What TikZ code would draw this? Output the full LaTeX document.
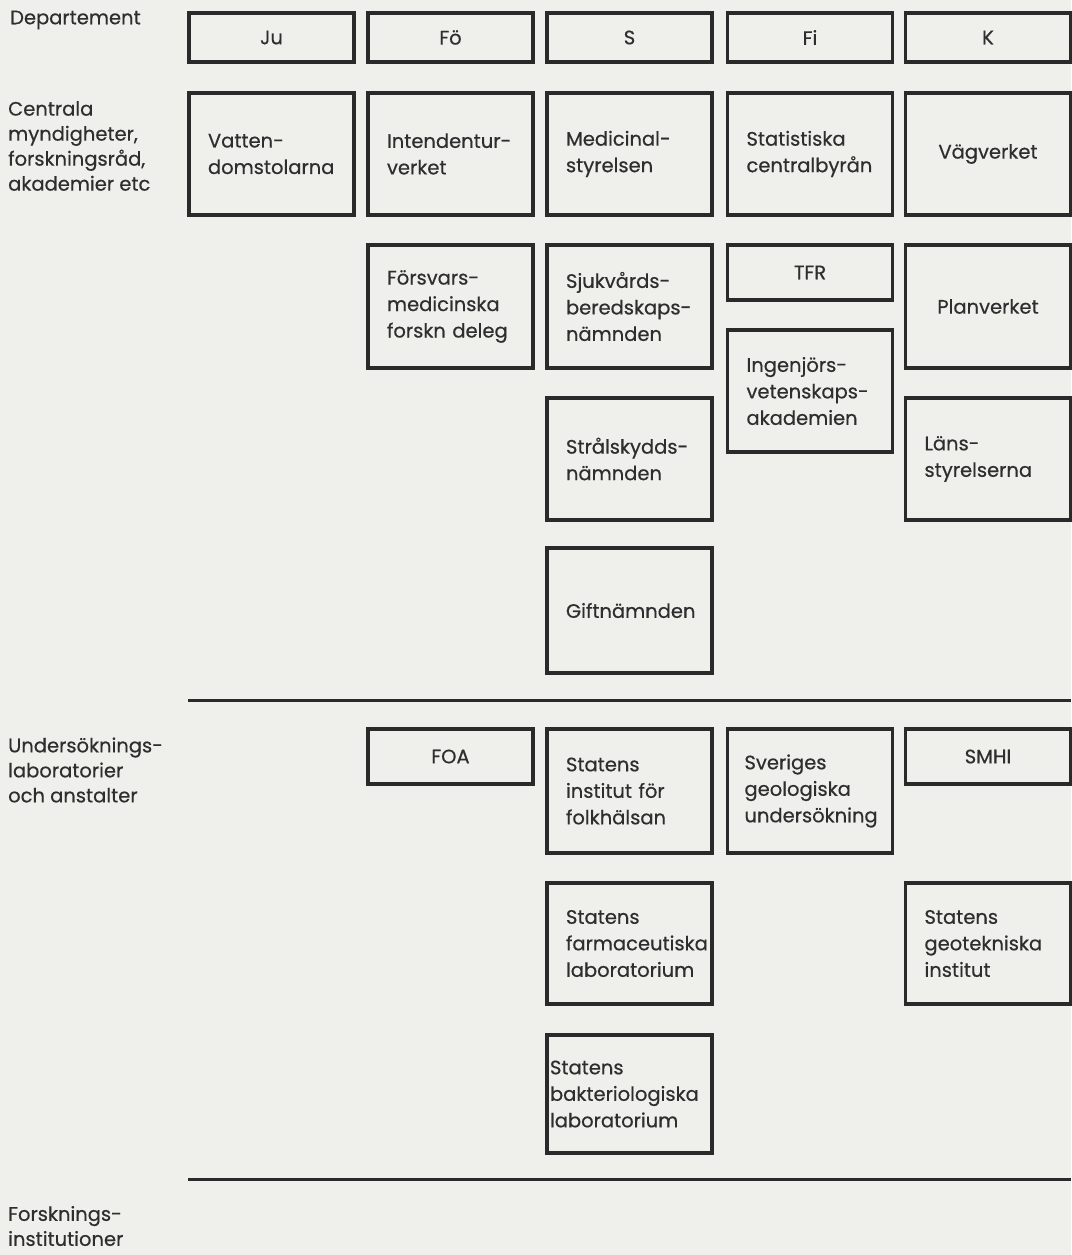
\documentclass[tikz,border=0pt]{standalone}
\usepackage{fontspec}
\setmainfont{Poppins}[FakeBold=0.5]
\definecolor{bgc}{HTML}{EFEFEB}
\definecolor{linec}{HTML}{2A2A2A}
\definecolor{textc}{HTML}{2E2E2E}
\begin{document}
\begin{tikzpicture}[x=1pt,y=-1pt,
  every node/.style={font=\fontsize{19.5}{26.5}\selectfont, text=textc},
  box/.style={draw=linec, line width=3.3pt, minimum width=165pt, text width=127pt,
    inner xsep=19pt, inner ysep=4pt, align=left},
  cbox/.style={box, align=center},
  lbl/.style={anchor=west, align=left, inner sep=0pt},
  rule/.style={draw=linec, line width=3pt}]
\fill[bgc] (0,0) rectangle (1071,1255);
\useasboundingbox (0,0) rectangle (1071,1255);

% left labels
\node[lbl] (dep) at (10,20) {Departement};
\node[lbl, font=\fontsize{19.5}{25}\selectfont] (cen) at (8,146) {Centrala\\myndigheter,\\forskningsråd,\\akademier etc};
\node[lbl, font=\fontsize{19.5}{25}\selectfont] (und) at (8,770) {Undersöknings-\\laboratorier\\och anstalter};
\node[lbl, font=\fontsize{19.5}{25}\selectfont] (fors) at (8,1226) {Forsknings-\\institutioner};

% departments
\node[cbox, minimum height=49pt] (ju) at (271.5,37.5) {Ju};
\node[cbox, minimum height=49pt] (fo) at (450.5,37.5) {Fö};
\node[cbox, minimum height=49pt] (s) at (629.5,37.5) {S};
\node[cbox, minimum height=49pt] (fi) at (810,37.5) {Fi};
\node[cbox, minimum height=49pt] (k) at (988,37.5) {K};

% central authorities
\node[box, minimum height=122pt] (vatten) at (271.5,154) {Vatten-\\domstolarna};
\node[box, minimum height=122pt] (intend) at (450.5,154) {Intendentur-\\verket};
\node[box, minimum height=122pt] (medic) at (629.5,154) {Medicinal-\\styrelsen};
\node[box, minimum height=122pt] (scb) at (810,154) {Statistiska\\centralbyrån};
\node[cbox, minimum height=122pt] (vag) at (988,154) {Vägverket};

\node[box, minimum height=123pt] (forsv) at (450.5,306.5) {Försvars-\\medicinska\\forskn deleg};
\node[box, minimum height=123pt] (sjuk) at (629.5,306.5) {Sjukvårds-\\beredskaps-\\nämnden};
\node[cbox, minimum height=55pt] (tfr) at (810,272.5) {TFR};
\node[cbox, minimum height=123pt] (plan) at (988,306.5) {Planverket};

\node[box, minimum height=122pt] (ingen) at (810,391) {Ingenjörs-\\vetenskaps-\\akademien};
\node[box, minimum height=122pt] (strål) at (629.5,459) {Strålskydds-\\nämnden};
\node[box, minimum height=122pt] (lans) at (988,459) {Läns-\\styrelserna};

\node[cbox, minimum height=125pt] (gift) at (629.5,610.5) {Giftnämnden};

% rule 1
\coordinate (r1a) at (188,700);
\coordinate (r1b) at (1071,700);
\draw[rule] (r1a) -- (r1b);

% laboratories
\node[cbox, minimum height=55pt] (foa) at (450.5,756.5) {FOA};
\node[box, minimum height=124pt] (folk) at (629.5,791) {Statens\\institut för\\folkhälsan};
\node[box, minimum height=124pt, inner xsep=17pt, text width=131pt] (sgu) at (810,791) {Sveriges\\geologiska\\undersökning};
\node[cbox, minimum height=55pt] (smhi) at (988,756.5) {SMHI};

\node[box, minimum height=121pt] (farm) at (629.5,943.5) {Statens\\farmaceutiska\\laboratorium};
\node[box, minimum height=121pt] (geot) at (988,943.5) {Statens\\geotekniska\\institut};

\node[box, minimum height=118pt, text width=159pt, inner xsep=3pt] (bakt) at (629.5,1094) {Statens\\bakteriologiska\\laboratorium};

% rule 2
\coordinate (r2a) at (188,1179);
\coordinate (r2b) at (1071,1179);
\draw[rule] (r2a) -- (r2b);
\end{tikzpicture}
\end{document}
